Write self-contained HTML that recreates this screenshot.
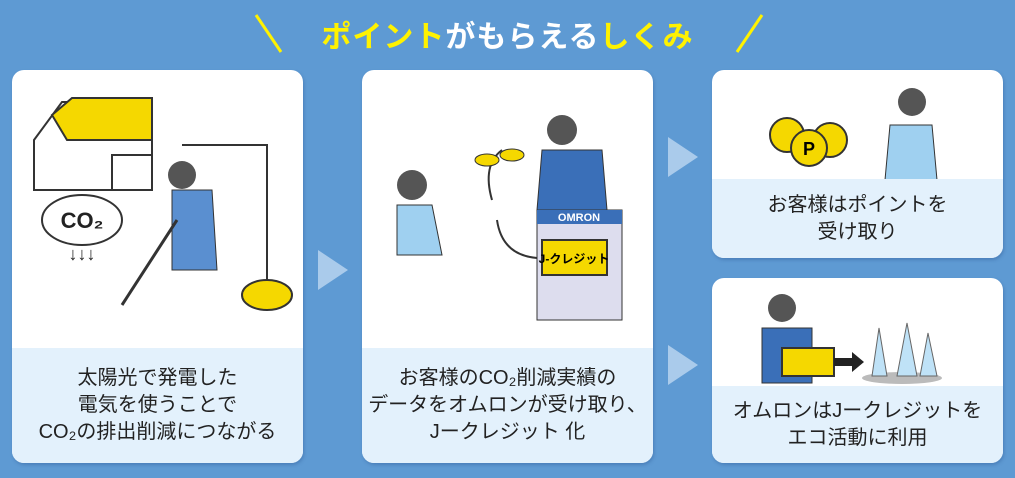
<!DOCTYPE html>
<html><head><meta charset="utf-8"><style>
*{margin:0;padding:0;box-sizing:border-box}
body{width:1015px;height:478px;background:#5e9ad3;position:relative;overflow:hidden;font-family:"Liberation Sans","Noto Sans CJK JP",sans-serif}
.card{position:absolute;background:#fff;border-radius:12px;overflow:hidden;box-shadow:1px 2px 3px rgba(40,80,140,.35)}
.low{position:absolute;left:0;right:0;bottom:0;background:#e3f1fc;color:#222;text-align:center;font-size:20px;line-height:27px;display:flex;align-items:center;justify-content:center}
.tri{position:absolute;width:0;height:0;border-top:20px solid transparent;border-bottom:20px solid transparent;border-left:30px solid #aacbeb}
.title{position:absolute;top:12px;left:0;width:1015px;text-align:center;font-size:30px;font-weight:bold;color:#fff;letter-spacing:1px}
.y{color:#fff200}
</style></head><body>
<svg style="position:absolute;left:0;top:0" width="1015" height="70">
<line x1="256" y1="15" x2="281" y2="52" stroke="#fff200" stroke-width="3"/>
<line x1="762" y1="15" x2="737" y2="52" stroke="#fff200" stroke-width="3"/>
</svg>
<div class="title"><span class="y">ポイント</span>がもらえる<span class="y">しくみ</span></div>

<div class="card" style="left:12px;top:70px;width:291px;height:393px">
<svg width="291" height="280" style="position:absolute;left:0;top:0">
<polygon points="22,70 50,32 140,32 140,120 22,120" fill="#fff" stroke="#333" stroke-width="2"/>
<polygon points="40,45 60,28 140,28 140,70 55,70" fill="#f5d800" stroke="#333" stroke-width="2"/>
<rect x="100" y="85" width="40" height="35" fill="#fff" stroke="#333" stroke-width="2"/>
<ellipse cx="70" cy="150" rx="40" ry="25" fill="#fff" stroke="#333" stroke-width="2"/>
<text x="70" y="158" text-anchor="middle" font-size="22" font-weight="bold" fill="#222">CO₂</text>
<text x="70" y="190" text-anchor="middle" font-size="18" fill="#222">↓↓↓</text>
<polyline points="170,75 255,75 255,220" fill="none" stroke="#333" stroke-width="2"/>
<circle cx="170" cy="105" r="14" fill="#555"/>
<path d="M160,120 L200,120 L205,200 L160,200 Z" fill="#5a8fd0" stroke="#333"/>
<line x1="165" y1="150" x2="110" y2="235" stroke="#333" stroke-width="3"/>
<ellipse cx="255" cy="225" rx="25" ry="15" fill="#f5d800" stroke="#333" stroke-width="2"/>
</svg>
<div class="low" style="top:278px">太陽光で発電した<br>電気を使うことで<br>CO₂の排出削減につながる</div>
</div>

<div class="tri" style="left:318px;top:250px"></div>

<div class="card" style="left:362px;top:70px;width:291px;height:393px">
<svg width="291" height="280" style="position:absolute;left:0;top:0">
<circle cx="50" cy="115" r="15" fill="#555"/>
<path d="M35,135 L70,135 L80,185 L35,185 Z" fill="#9fd0f0" stroke="#333"/>
<path d="M130,130 Q120,95 140,80" fill="none" stroke="#333" stroke-width="2"/>
<ellipse cx="125" cy="90" rx="12" ry="6" fill="#f5d800" stroke="#333"/>
<ellipse cx="150" cy="85" rx="12" ry="6" fill="#f5d800" stroke="#333"/>
<circle cx="200" cy="60" r="15" fill="#555"/>
<path d="M180,80 L240,80 L245,140 L175,140 Z" fill="#3a6fb8" stroke="#333"/>
<rect x="175" y="140" width="85" height="110" fill="#dde" stroke="#333"/>
<rect x="175" y="140" width="85" height="14" fill="#3a6fb8"/>
<text x="217" y="151" text-anchor="middle" font-size="11" font-weight="bold" fill="#fff">OMRON</text>
<rect x="180" y="170" width="65" height="35" fill="#f5d800" stroke="#333" stroke-width="2"/>
<text x="212" y="193" text-anchor="middle" font-size="12" font-weight="bold">J-クレジット</text>
<path d="M135,150 Q140,185 175,188" fill="none" stroke="#333" stroke-width="2"/>
</svg>
<div class="low" style="top:278px">お客様のCO₂削減実績の<br>データをオムロンが受け取り、<br>Jークレジット 化</div>
</div>

<div class="tri" style="left:668px;top:137px"></div>
<div class="tri" style="left:668px;top:345px"></div>

<div class="card" style="left:712px;top:70px;width:291px;height:188px">
<svg width="291" height="110" style="position:absolute;left:0;top:0">
<circle cx="75" cy="65" r="17" fill="#f5d800" stroke="#333" stroke-width="2"/>
<circle cx="118" cy="70" r="17" fill="#f5d800" stroke="#333" stroke-width="2"/>
<circle cx="97" cy="78" r="18" fill="#f5d800" stroke="#333" stroke-width="2"/>
<text x="97" y="85" text-anchor="middle" font-size="18" font-weight="bold">P</text>
<circle cx="200" cy="32" r="14" fill="#555"/>
<path d="M178,55 L220,55 L225,110 L173,110 Z" fill="#9fd0f0" stroke="#333"/>
</svg>
<div class="low" style="top:109px">お客様はポイントを<br>受け取り</div>
</div>

<div class="card" style="left:712px;top:278px;width:291px;height:185px">
<svg width="291" height="110" style="position:absolute;left:0;top:0">
<circle cx="70" cy="30" r="14" fill="#555"/>
<path d="M50,50 L100,50 L100,105 L50,105 Z" fill="#3a6fb8" stroke="#333"/>
<rect x="70" y="70" width="52" height="28" fill="#f5d800" stroke="#333" stroke-width="2"/>
<polygon points="122,80 140,80 140,74 152,84 140,94 140,88 122,88" fill="#222"/>
<ellipse cx="190" cy="100" rx="40" ry="6" fill="#bbb"/>
<path d="M175,98 L160,98 L167,50 Z M205,98 L185,98 L195,45 Z M225,98 L208,98 L216,55 Z" fill="#bfe2f7" stroke="#666"/>
</svg>
<div class="low" style="top:108px">オムロンはJークレジットを<br>エコ活動に利用</div>
</div>
</body></html>
